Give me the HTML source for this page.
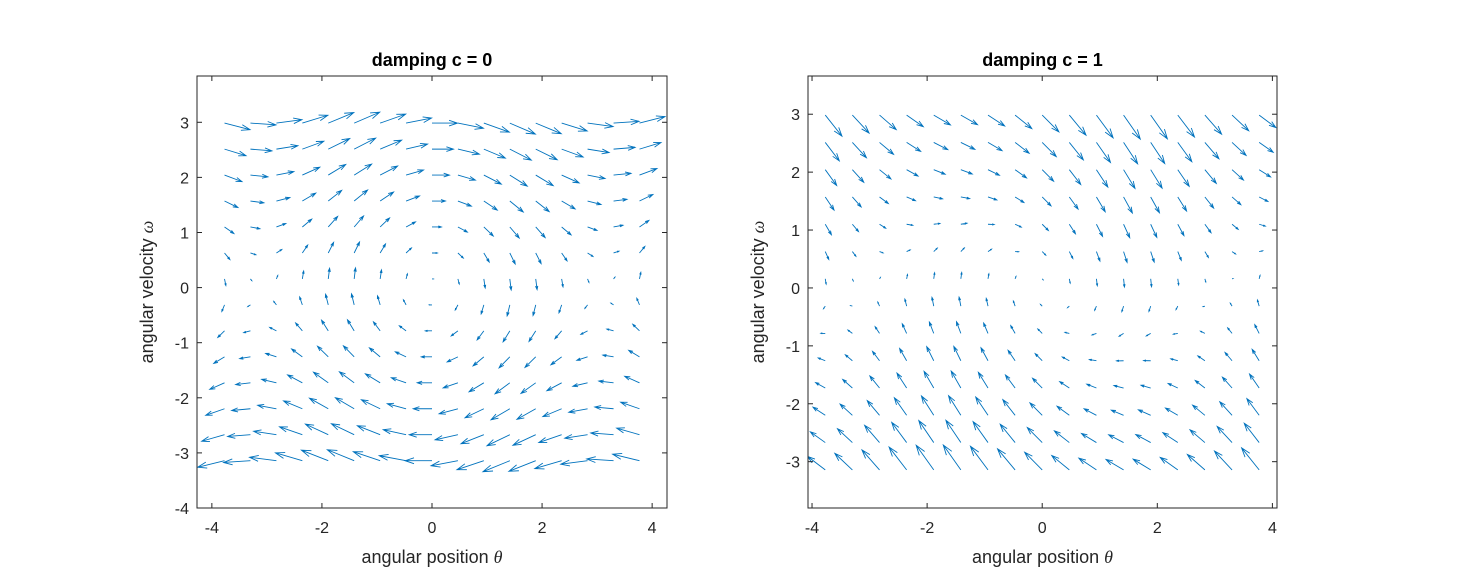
<!DOCTYPE html>
<html><head><meta charset="utf-8"><style>
html,body{margin:0;padding:0;background:#fff;}
svg{display:block;font-family:"Liberation Sans",Arial,sans-serif;}
</style></head><body>
<svg id="fig" width="1474" height="584" viewBox="0 0 1474 584" xmlns="http://www.w3.org/2000/svg"></svg>
<script>
// grid data (theta = -1.2pi:0.15pi:1.2pi, omega = -pi:0.15pi:~pi)
const thetaGrid = [-3.770,-3.299,-2.827,-2.356,-1.885,-1.414,-0.942,-0.471,0,0.471,0.942,1.414,1.885,2.356,2.827,3.299,3.770];
const omegaGrid = [-3.142,-2.670,-2.199,-1.728,-1.257,-0.785,-0.314,0.157,0.628,1.100,1.571,2.042,2.513,2.985];
const dampingValues = [0, 1];
const gravityRatio = 1.3;
const panelTitles = ["damping c = 0", "damping c = 1"];
const xTicks = [-4,-2,0,2,4];
const yTicksLeft = [-4,-3,-2,-1,0,1,2,3];
const yTicksRight = [-3,-2,-1,0,1,2,3];

const NS = "http://www.w3.org/2000/svg";
const svg = document.getElementById('fig');
function mk(tag, attrs, parent){ const e=document.createElementNS(NS,tag); for(const k in attrs) e.setAttribute(k,attrs[k]); (parent||svg).appendChild(e); return e; }

const panels = [
  {left:197,right:667,top:76,bottom:508,xmin:-4.27,xmax:4.27,ymin:-4,ymax:3.84,yTicks:yTicksLeft},
  {left:808,right:1277,top:76,bottom:508,xmin:-4.07,xmax:4.08,ymin:-3.8,ymax:3.66,yTicks:yTicksRight}
];

panels.forEach((p,pi)=>{
  const c = dampingValues[pi];
  const sx = v => p.left + (v-p.xmin)/(p.xmax-p.xmin)*(p.right-p.left);
  const sy = v => p.bottom - (v-p.ymin)/(p.ymax-p.ymin)*(p.bottom-p.top);
  const g = mk('g',{});
  
  
  const cid='clip'+pi;
  const cp = mk('clipPath',{id:cid},g);
  mk('rect',{x:p.left,y:p.top,width:p.right-p.left,height:p.bottom-p.top},cp);
  let U=[],mx=0;
  thetaGrid.forEach(t=>omegaGrid.forEach(w=>{const u=w, v=-gravityRatio*Math.sin(t)-c*w; U.push([t,w,u,v]); mx=Math.max(mx,Math.hypot(u,v));}));
  const scale = 0.527/mx;
  const q = mk('g',{'clip-path':'url(#'+cid+')',stroke:'#0072BD','stroke-width':'0.9',fill:'none'},g);
  
  
  const alpha=0.33,beta=0.33;
  U.forEach(([t,w,u,v])=>{
    u*=scale; v*=scale;
    const tx=t+u, ty=w+v;
    const h1x=tx-alpha*(u+beta*v), h1y=ty-alpha*(v-beta*u);
    const h2x=tx-alpha*(u-beta*v), h2y=ty-alpha*(v+beta*u);
    const d=`M${sx(t).toFixed(2)},${sy(w).toFixed(2)}L${sx(tx).toFixed(2)},${sy(ty).toFixed(2)}M${sx(h1x).toFixed(2)},${sy(h1y).toFixed(2)}L${sx(tx).toFixed(2)},${sy(ty).toFixed(2)}L${sx(h2x).toFixed(2)},${sy(h2y).toFixed(2)}`;
    const a=mk('path',{d:d},q);
    
    
  });
  const box=mk('rect',{x:p.left,y:p.top,width:p.right-p.left,height:p.bottom-p.top,fill:'none',stroke:'#262626','stroke-width':'1'},g);
  
  
  xTicks.forEach(t=>{
    const x=sx(t);
    mk('line',{x1:x,x2:x,y1:p.bottom,y2:p.bottom-5,stroke:'#262626'},g);
    mk('line',{x1:x,x2:x,y1:p.top,y2:p.top+5,stroke:'#262626'},g);
    const l=mk('text',{x:x,y:p.bottom+25,'text-anchor':'middle','font-size':'16',fill:'#262626'},g);
    l.textContent=String(t);
    
    
  });
  p.yTicks.forEach(t=>{
    const y=sy(t);
    mk('line',{x1:p.left,x2:p.left+5,y1:y,y2:y,stroke:'#262626'},g);
    mk('line',{x1:p.right,x2:p.right-5,y1:y,y2:y,stroke:'#262626'},g);
    const l=mk('text',{x:p.left-8,y:y+6,'text-anchor':'end','font-size':'16',fill:'#262626'},g);
    l.textContent=String(t);
    
    
  });
  const cx=(p.left+p.right)/2;
  const ti=mk('text',{x:cx,y:66,'text-anchor':'middle','font-size':'18','font-weight':'bold',fill:'#000'},g);
  ti.textContent=panelTitles[pi];
  
  
  const xl=mk('text',{x:cx,y:563,'text-anchor':'middle','font-size':'18',fill:'#262626'},g);
  xl.innerHTML='angular position <tspan font-family="Liberation Serif,serif" font-style="italic">θ</tspan>';
  
  
  const yx=p.left-44, yy=(p.top+p.bottom)/2;
  const yl=mk('text',{x:yx,y:yy,'text-anchor':'middle','font-size':'18',fill:'#262626',transform:`rotate(-90 ${yx} ${yy})`},g);
  yl.innerHTML='angular velocity <tspan font-family="Liberation Serif,serif" font-style="italic">ω</tspan>';
  
  
});
</script>
</body></html>
